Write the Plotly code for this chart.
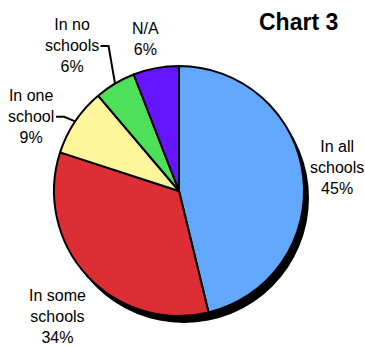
import math
import plotly.graph_objects as go

labels = ["In all schools", "In some schools", "In one school", "In no schools", "N/A"]
label_lines = ["In all<br>schools", "In some<br>schools", "In one<br>school", "In no<br>schools", "N/A"]
values = [46.2, 33.8, 8.8, 5.3, 5.9]
pct_labels = ["45%", "34%", "9%", "6%", "6%"]
colors = ["#62A8FF", "#DE2E35", "#FFF59A", "#4FE05A", "#6616FF"]
title = "Chart 3"

# layout / style settings (pixels)
W, H = 365, 346
cx, cy, r = 179, 191, 125
dx, dy = 5, 7
label_radius = [160, 174, 165.5, 180.5, 155.5]
label_nudge = [-1.5, -3.1, -7.2, -5.75, -1.65]
leader = [False, False, True, True, False]
leader_half_width = [0, 0, 23, 27, 0]
FONT = "Liberation Sans, Arial, sans-serif"


def dom(x, y):
    return dict(x=[(x - r) / W, (x + r) / W], y=[1 - (y + r) / H, 1 - (y - r) / H])


def px(x, y):
    return x / W, 1 - y / H


fig = go.Figure()
fig.add_trace(go.Pie(
    values=[1], labels=["shadow"], marker=dict(colors=["#000000"], line=dict(width=0)),
    textinfo="none", hoverinfo="skip", domain=dom(cx + dx, cy + dy), showlegend=False, sort=False,
))
fig.add_trace(go.Pie(
    values=values, labels=labels, sort=False, direction="clockwise", rotation=0,
    marker=dict(colors=colors, line=dict(color="#000000", width=2)),
    textinfo="none", domain=dom(cx, cy), showlegend=False, automargin=False,
))

total = sum(values)
annotations = []
shapes = []
cum = 0
for i, v in enumerate(values):
    mid = (cum + v / 2) / total * 360
    cum += v
    a = math.radians(mid + label_nudge[i])
    lx = cx + label_radius[i] * math.sin(a)
    ly = cy - label_radius[i] * math.cos(a)
    x, y = px(lx, ly)
    annotations.append(dict(
        text=f"{label_lines[i]}<br>{pct_labels[i]}", x=x, y=y, xref="paper", yref="paper",
        xanchor="center", yanchor="middle", showarrow=False, align="center",
        font=dict(family=FONT, size=16, color="#000000"),
    ))
    if leader[i]:
        am = math.radians(mid)
        ex = cx + r * math.sin(am)
        ey = cy - r * math.cos(am)
        sx = lx + leader_half_width[i] + 2
        p0 = px(sx, ly)
        p1 = px(sx + 8, ly)
        p2 = px(ex, ey)
        shapes.append(dict(
            type="path", xref="paper", yref="paper",
            path=f"M {p0[0]} {p0[1]} L {p1[0]} {p1[1]} L {p2[0]} {p2[1]}",
            line=dict(color="#000000", width=2),
        ))

tx, ty = px(298, 22)
annotations.append(dict(
    text="<b>" + title + "</b>", x=tx, y=ty, xref="paper", yref="paper",
    xanchor="center", yanchor="middle", showarrow=False,
    font=dict(family=FONT, size=23, color="#000000"),
))

fig.update_layout(
    width=W, height=H, margin=dict(l=0, r=0, t=0, b=0),
    paper_bgcolor="white", plot_bgcolor="white",
    annotations=annotations, shapes=shapes,
)
fig.write_html("out.html")
